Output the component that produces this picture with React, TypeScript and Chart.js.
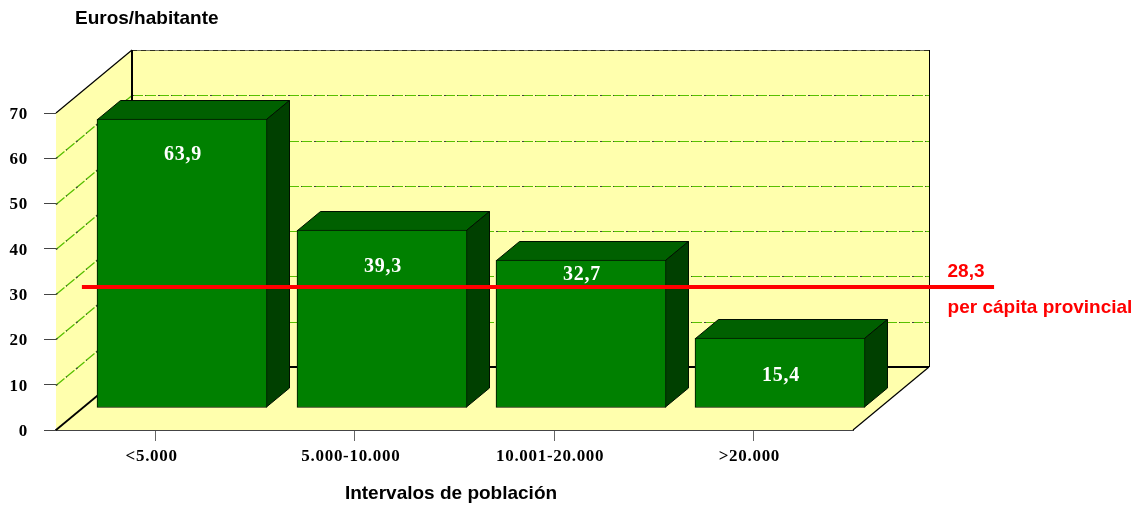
import React, { useEffect, useRef } from "react";
import { Chart, registerables } from "chart.js";

Chart.register(...registerables);

const categories = ["<5.000", "5.000-10.000", "10.001-20.000", ">20.000"];
const euros = [63.9, 39.3, 32.7, 15.4];
const euroLabels = ["63,9", "39,3", "32,7", "15,4"];
const labelDrops = [36, 37, 15, 38];
const provincial = 28.3;
const provincialLabel = "28,3";
const provincialCaption = "per cápita provincial";
const refSpan = [-0.37, 4.208];
const yTitle = "Euros/habitante";
const xTitle = "Intervalos de población";

const SERIF = '"Liberation Serif"';
const SANS = '"Liberation Sans"';
const WALL = "#FFFFAD";
const EDGE = "#001000";
const DEPTH_X = 76;
const DEPTH_Y = -63;
const BAR_DX = 27;
const BAR_DY = -22;
const SIDE_X = 23;
const SIDE_Y = -19;
const REF_DY = -14.8;

function poly(ctx: CanvasRenderingContext2D, pts: number[][], fill?: string, stroke?: string, lw = 1) {
  ctx.beginPath();
  pts.forEach((p, i) => (i ? ctx.lineTo(p[0], p[1]) : ctx.moveTo(p[0], p[1])));
  if (fill) {
    ctx.closePath();
    ctx.fillStyle = fill;
    ctx.fill();
  }
  if (stroke) {
    ctx.strokeStyle = stroke;
    ctx.lineWidth = lw;
    ctx.stroke();
  }
}

function gridStroke(ctx: CanvasRenderingContext2D, a: number[], b: number[], lw = 1) {
  ctx.save();
  ctx.setLineDash([11, 2]);
  poly(ctx, [a, b], undefined, "#58C000", lw);
  ctx.setLineDash([2, 11, 1, 12]);
  poly(ctx, [a, b], undefined, "#404040", lw);
  ctx.restore();
}

const chart3d = {
  id: "chart3d",
  beforeDraw(chart: any) {
    (chart.ctx as any).letterSpacing = "0.7px";
  },
  beforeDatasetsDraw(chart: any) {
    const ctx: CanvasRenderingContext2D = chart.ctx;
    const { left, right, top, bottom } = chart.chartArea;
    const yS = chart.scales.y;
    const dx = DEPTH_X, dy = DEPTH_Y;
    ctx.save();
    poly(ctx, [[left, top], [left + dx, top + dy], [left + dx, bottom + dy], [left, bottom]], WALL);
    poly(ctx, [[left + dx, top + dy], [right + dx, top + dy], [right + dx, bottom + dy], [left + dx, bottom + dy]], WALL);
    poly(ctx, [[left, bottom], [left + dx, bottom + dy], [right + dx, bottom + dy], [right, bottom]], WALL);
    yS.ticks.forEach((t: any) => {
      if (t.value === 0) return;
      const y = Math.round(yS.getPixelForValue(t.value)) + 0.5;
      if (t.value === 70) {
        poly(ctx, [[left + dx, y + dy], [right + dx, y + dy]], undefined, "#707060", 1);
        ctx.save();
        ctx.setLineDash([5, 4]);
        poly(ctx, [[left + dx, y + dy], [right + dx, y + dy]], undefined, "#303020", 1);
        ctx.restore();
      } else {
        gridStroke(ctx, [left + dx, y + dy], [right + dx, y + dy]);
        gridStroke(ctx, [left, y], [left + dx, y + dy], 1.3);
      }
    });
    poly(ctx, [[left, top], [left + dx, top + dy]], undefined, "#000", 1.2);
    poly(ctx, [[left, bottom], [left + dx, bottom + dy]], undefined, "#000", 1.8);
    poly(ctx, [[left + dx, top + dy], [left + dx, bottom + dy]], undefined, "#000", 2);
    poly(ctx, [[left + dx, bottom + dy], [right + dx, bottom + dy]], undefined, "#000", 2);
    poly(ctx, [[right + dx + 0.5, top + dy], [right + dx + 0.5, bottom + dy]], undefined, "#000", 1);
    poly(ctx, [[right, bottom], [right + dx, bottom + dy]], undefined, "#000", 1.2);
    ctx.restore();
  },
  beforeDatasetDraw(chart: any, args: any) {
    if (args.meta.type !== "bar") {
      chart.ctx.save();
      chart.ctx.translate(0, REF_DY);
      return;
    }
    const ctx: CanvasRenderingContext2D = chart.ctx;
    ctx.save();
    ctx.translate(BAR_DX, BAR_DY);
    args.meta.data.forEach((bar: any) => {
      // snap to whole pixels so the thin outlines stay crisp
      bar.x = Math.round(bar.x - 0.3);
      bar.y = Math.round(bar.y);
      const w = bar.width / 2;
      const l = bar.x - w + 0.5, r = bar.x + w - 0.5, t = bar.y + 0.5, b = bar.base - 0.5;
      poly(ctx, [[l, t], [l + SIDE_X, t + SIDE_Y], [r + SIDE_X, t + SIDE_Y], [r, t]], "#006000", EDGE, 1);
      poly(ctx, [[r, t], [r + SIDE_X, t + SIDE_Y], [r + SIDE_X, b + SIDE_Y], [r, b]], "#004000", EDGE, 1);
    });
  },
  afterDatasetDraw(chart: any, args: any) {
    const ctx: CanvasRenderingContext2D = chart.ctx;
    if (args.meta.type === "bar") {
      ctx.textAlign = "center";
      ctx.textBaseline = "middle";
      ctx.fillStyle = "#FFFFFF";
      ctx.font = `bold 20px ${SERIF}`;
      args.meta.data.forEach((bar: any, i: number) => {
        ctx.fillText(euroLabels[i], bar.x + 1, bar.y + labelDrops[i]);
      });
    }
    ctx.restore();
  },
  afterDraw(chart: any) {
    const ctx: CanvasRenderingContext2D = chart.ctx;
    const { left, right, top, bottom } = chart.chartArea;
    const lineY = chart.scales.y.getPixelForValue(provincial) + REF_DY;
    ctx.save();
    (ctx as any).letterSpacing = "0px";
    ctx.textBaseline = "middle";
    ctx.textAlign = "left";
    ctx.font = `bold 19px ${SANS}`;
    ctx.fillStyle = "#000000";
    ctx.fillText(yTitle, left + 19, top - 94);
    ctx.textAlign = "center";
    ctx.fillText(xTitle, (left + right) / 2 - 3.5, bottom + 64);
    ctx.fillStyle = "#FF0000";
    ctx.fillText(provincialLabel, right + 113, lineY - 15);
    ctx.fillText(provincialCaption, right + 187, lineY + 21);
    ctx.restore();
  },
};

export default function App() {
  const ref = useRef<HTMLCanvasElement>(null);
  useEffect(() => {
    document.body.style.margin = "0";
    const chart = new Chart(ref.current!, {
      data: {
        labels: categories,
        datasets: [
          {
            type: "line",
            label: "per cápita provincial",
            data: refSpan.map((x) => ({ x, y: provincial })),
            parsing: false,
            borderColor: "#FF0000",
            borderWidth: 4,
            pointRadius: 0,
            clip: false,
            order: 0,
          },
          {
            type: "bar",
            label: "Euros/habitante",
            data: euros,
            backgroundColor: "#008000",
            borderColor: EDGE,
            borderWidth: 1,
            borderSkipped: false,
            barThickness: 170,
            clip: false,
            order: 1,
          },
        ],
      } as any,
      plugins: [chart3d],
      options: {
        responsive: false,
        animation: false,
        layout: { padding: { left: 0, right: 290, top: 113, bottom: 0 } },
        plugins: { legend: { display: false }, title: { display: false }, tooltip: { enabled: false } },
        scales: {
          x: {
            grid: { offset: false, drawOnChartArea: false, drawTicks: true, tickLength: 11, color: "#666666" },
            border: { color: "#444444", width: 2 },
            ticks: {
              color: "#000000",
              padding: 5,
              labelOffset: -4,
              maxRotation: 0,
              autoSkip: false,
              font: { family: SERIF, weight: "bold", size: 17 },
            },
            afterFit: (s: any) => {
              s.height = 76;
            },
          },
          y: {
            min: 0,
            max: 70,
            grid: { drawOnChartArea: false, drawTicks: true, tickLength: 12, color: "#444444" },
            border: { color: "#333333", width: 1 },
            ticks: {
              stepSize: 10,
              color: "#000000",
              padding: 16,
              labelOffset: 1.5,
              font: { family: SERIF, weight: "bold", size: 17 },
            },
            afterFit: (s: any) => {
              s.width = 56;
            },
          },
        },
      } as any,
    });
    return () => chart.destroy();
  }, []);
  return (
    <div style={{ width: 1143, height: 506, background: "#FFFFFF" }}>
      <canvas ref={ref} width={1143} height={506} style={{ display: "block" }} />
    </div>
  );
}
